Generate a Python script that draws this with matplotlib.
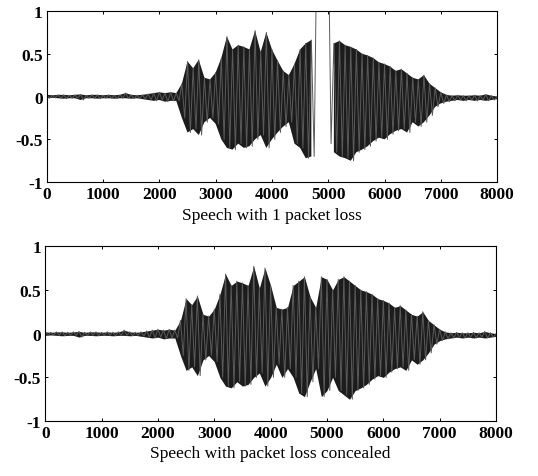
import numpy as np
import matplotlib
matplotlib.use("Agg")
import matplotlib.pyplot as plt

plt.rcParams["font.family"] = ["Liberation Serif", "DejaVu Serif"]
plt.rcParams["axes.unicode_minus"] = False

# envelope readings, one max/min pair every 100 samples (0..8000)
samples = list(range(0, 8001, 100))

# top: speech with one lost packet (gap values are off the scale)
top_max = [0.02, 0.015, 0.02, 0.02, 0.015, 0.02, 0.025, 0.015, 0.02, 0.02,
           0.015, 0.02, 0.015, 0.02, 0.04, 0.02, 0.015, 0.02, 0.03, 0.04,
           0.05, 0.04, 0.05, 0.04, 0.15, 0.41, 0.33, 0.43, 0.22, 0.2,
           0.28, 0.45, 0.7, 0.55, 0.6, 0.58, 0.55, 0.77, 0.52, 0.75,
           0.55, 0.42, 0.3, 0.25, 0.38, 0.55, 0.62, 0.66, 2.0, 2.0,
           2.0, 0.62, 0.65, 0.6, 0.58, 0.55, 0.5, 0.48, 0.45, 0.4,
           0.38, 0.35, 0.3, 0.32, 0.27, 0.22, 0.2, 0.25, 0.15, 0.1,
           0.05, 0.02, 0.01, 0.015, 0.01, 0.01, 0.015, 0.01, 0.025, 0.01,
           0.0]
top_min = [-0.02, -0.015, -0.02, -0.025, -0.02, -0.02, -0.04, -0.02, -0.02, -0.025,
           -0.02, -0.02, -0.025, -0.02, -0.02, -0.025, -0.02, -0.03, -0.04, -0.05,
           -0.04, -0.06, -0.05, -0.05, -0.25, -0.42, -0.38, -0.45, -0.3, -0.25,
           -0.32, -0.5, -0.6, -0.62, -0.55, -0.6, -0.58, -0.5, -0.45, -0.6,
           -0.5, -0.42, -0.35, -0.3, -0.55, -0.6, -0.72, -0.7, 2.0, 2.0,
           -0.55, -0.65, -0.7, -0.72, -0.75, -0.65, -0.62, -0.58, -0.52, -0.48,
           -0.5, -0.44, -0.4, -0.38, -0.42, -0.3, -0.35, -0.3, -0.22, -0.12,
           -0.08, -0.06, -0.05, -0.04, -0.05, -0.04, -0.05, -0.04, -0.05, -0.04,
           -0.03]

# bottom: same speech with the lost packet concealed
bot_max = [0.02, 0.015, 0.02, 0.02, 0.015, 0.02, 0.025, 0.015, 0.02, 0.02,
           0.015, 0.02, 0.015, 0.02, 0.04, 0.02, 0.015, 0.02, 0.03, 0.04,
           0.05, 0.04, 0.05, 0.04, 0.15, 0.4, 0.33, 0.43, 0.22, 0.2,
           0.28, 0.45, 0.68, 0.55, 0.6, 0.58, 0.55, 0.77, 0.52, 0.75,
           0.55, 0.3, 0.28, 0.3, 0.55, 0.6, 0.65, 0.42, 0.3, 0.65,
           0.62, 0.5, 0.62, 0.65, 0.6, 0.55, 0.5, 0.48, 0.45, 0.4,
           0.38, 0.35, 0.3, 0.32, 0.27, 0.22, 0.2, 0.25, 0.15, 0.1,
           0.05, 0.02, 0.01, 0.015, 0.01, 0.01, 0.015, 0.01, 0.025, 0.01,
           0.0]
bot_min = [-0.02, -0.015, -0.02, -0.025, -0.02, -0.02, -0.04, -0.02, -0.02, -0.025,
           -0.02, -0.02, -0.025, -0.02, -0.02, -0.025, -0.02, -0.03, -0.04, -0.05,
           -0.04, -0.06, -0.05, -0.05, -0.25, -0.42, -0.38, -0.48, -0.3, -0.25,
           -0.32, -0.5, -0.6, -0.62, -0.55, -0.6, -0.58, -0.5, -0.45, -0.6,
           -0.5, -0.35, -0.5, -0.4, -0.5, -0.68, -0.72, -0.55, -0.4, -0.72,
           -0.65, -0.5, -0.65, -0.7, -0.75, -0.65, -0.62, -0.58, -0.52, -0.48,
           -0.5, -0.44, -0.4, -0.38, -0.42, -0.3, -0.35, -0.3, -0.22, -0.12,
           -0.08, -0.06, -0.05, -0.04, -0.05, -0.04, -0.05, -0.04, -0.05, -0.04,
           -0.03]

xticks = [0, 1000, 2000, 3000, 4000, 5000, 6000, 7000, 8000]
yticks = [-1, -0.5, 0, 0.5, 1]
ytick_labels = ["-1", "-0.5", "0", "0.5", "1"]
titles = ["Speech with 1 packet loss", "Speech with packet loss concealed"]


def zigzag(hi, lo):
    # alternate max and min readings, half a step apart
    s = np.array(samples, dtype=float)
    xs = np.column_stack([s, s + 50]).ravel()
    ys = np.column_stack([hi, lo]).ravel()
    return xs, ys


fig = plt.figure(figsize=(5.38, 4.77), dpi=100)
ax1 = fig.add_axes([0.087, 0.616, 0.837, 0.359])
ax2 = fig.add_axes([0.084, 0.115, 0.838, 0.367])

for ax, hi, lo, label in [(ax1, top_max, top_min, titles[0]),
                          (ax2, bot_max, bot_min, titles[1])]:
    hi_a = np.array(hi)
    lo_a = np.array(lo)
    ok = (hi_a <= 1) & (lo_a <= 1)
    # dense body of the waveform
    ax.fill_between(samples, lo_a, hi_a, where=ok, color="#1c1c1c", lw=0)
    xs, ys = zigzag(hi, lo)
    ax.plot(xs, ys, color="#5a5a5a", lw=0.7)
    ax.set_xlim(0, 8000)
    ax.set_ylim(-1, 1)
    ax.set_xticks(xticks)
    ax.set_yticks(yticks)
    ax.set_yticklabels(ytick_labels)
    ax.tick_params(direction="in", top=True, right=True, length=2.5,
                   labelsize=12.5, pad=3, width=0.7)
    for t in ax.get_xticklabels() + ax.get_yticklabels():
        t.set_fontweight("bold")
    ax.set_xlabel(label, fontsize=12.5, labelpad=3)
    for sp in ax.spines.values():
        sp.set_linewidth(0.8)

fig.savefig("out.png", dpi=100)
